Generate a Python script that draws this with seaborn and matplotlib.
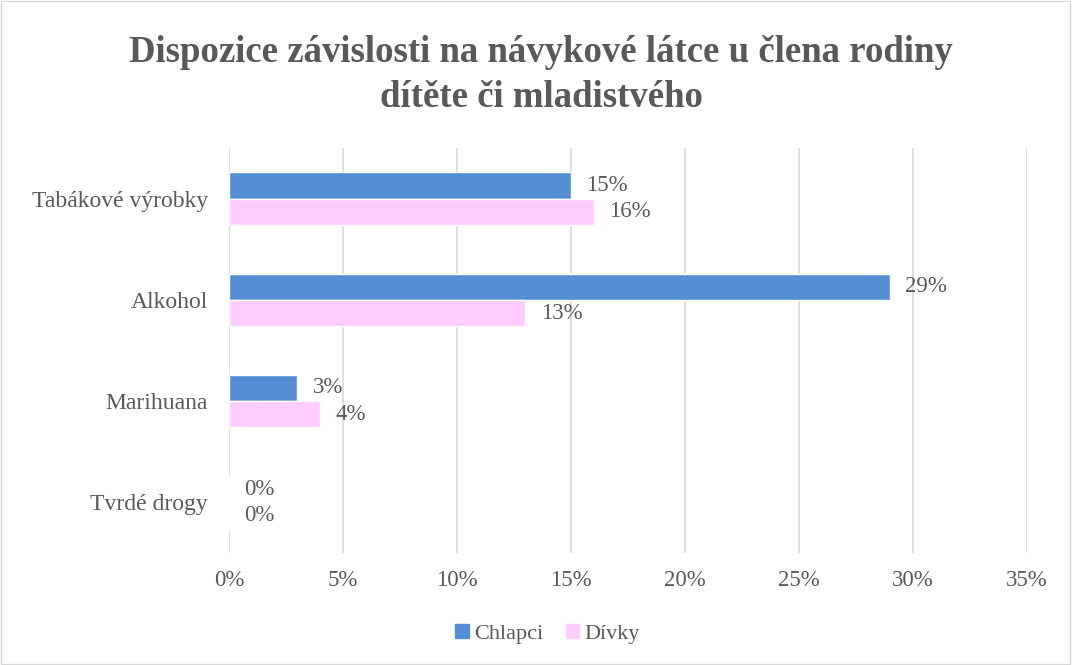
import pandas as pd
import matplotlib.pyplot as plt
import seaborn as sns
from matplotlib.patches import Rectangle

# Data
categories = ["Tabákové výrobky", "Alkohol", "Marihuana", "Tvrdé drogy"]
chlapci = [15, 29, 3, 0]
divky = [16, 13, 4, 0]
series = ["Chlapci", "Dívky"]
colors = ["#558ED5", "#FFCCFF"]
xticks = [0, 5, 10, 15, 20, 25, 30, 35]

df = pd.DataFrame({
    "cat": categories * 2,
    "val": chlapci + divky,
    "serie": [series[0]] * 4 + [series[1]] * 4,
})

sns.set_style("white")
plt.rcParams['font.family'] = ['Liberation Serif', 'DejaVu Serif']
txt = "#595959"

fig = plt.figure(figsize=(10.72, 6.65), dpi=100)
ax = fig.add_axes([0.2136, 0.1684, 0.7444, 0.609])

sns.barplot(data=df, x="val", y="cat", hue="serie", order=categories,
            hue_order=series, palette=colors, orient="h", width=0.52,
            saturation=1, ax=ax, legend=False)

for cont in ax.containers:
    ax.bar_label(cont, labels=[f"{v:.0f}%" for v in cont.datavalues],
                 padding=11, fontsize=16.5, color=txt)

ax.set_xlim(0, 35)
ax.set_ylim(3.5, -0.5)
ax.set_xticks(xticks)
ax.set_xticklabels([f"{t}%" for t in xticks])
ax.tick_params(axis="x", labelsize=16.5, colors=txt, length=0, pad=12)
ax.tick_params(axis="y", labelsize=17, colors=txt, length=0, pad=15)
ax.grid(axis="x", color="#D9D9D9", linewidth=1.2)
ax.set_axisbelow(True)
for s in ax.spines.values():
    s.set_visible(False)
ax.set_xlabel("")
ax.set_ylabel("")

fig.suptitle("Dispozice závislosti na návykové látce u člena rodiny\ndítěte či mladistvého",
             x=0.505, y=0.948, fontsize=26.5, fontweight="bold", color=txt,
             linespacing=1.4)

handles = [Rectangle((0, 0), 1, 1, color=c) for c in colors]
fig.legend(handles, series, loc="center", bbox_to_anchor=(0.511, 0.047),
           ncol=2, frameon=False, fontsize=16, handlelength=0.6,
           handleheight=0.6, handletextpad=0.25, columnspacing=1.0,
           labelcolor=txt)

fig.patches.append(Rectangle((0.001, 0.002), 0.997, 0.996, transform=fig.transFigure,
                             fill=False, edgecolor="#D9D9D9", linewidth=1))

fig.savefig("out.png", dpi=100)
